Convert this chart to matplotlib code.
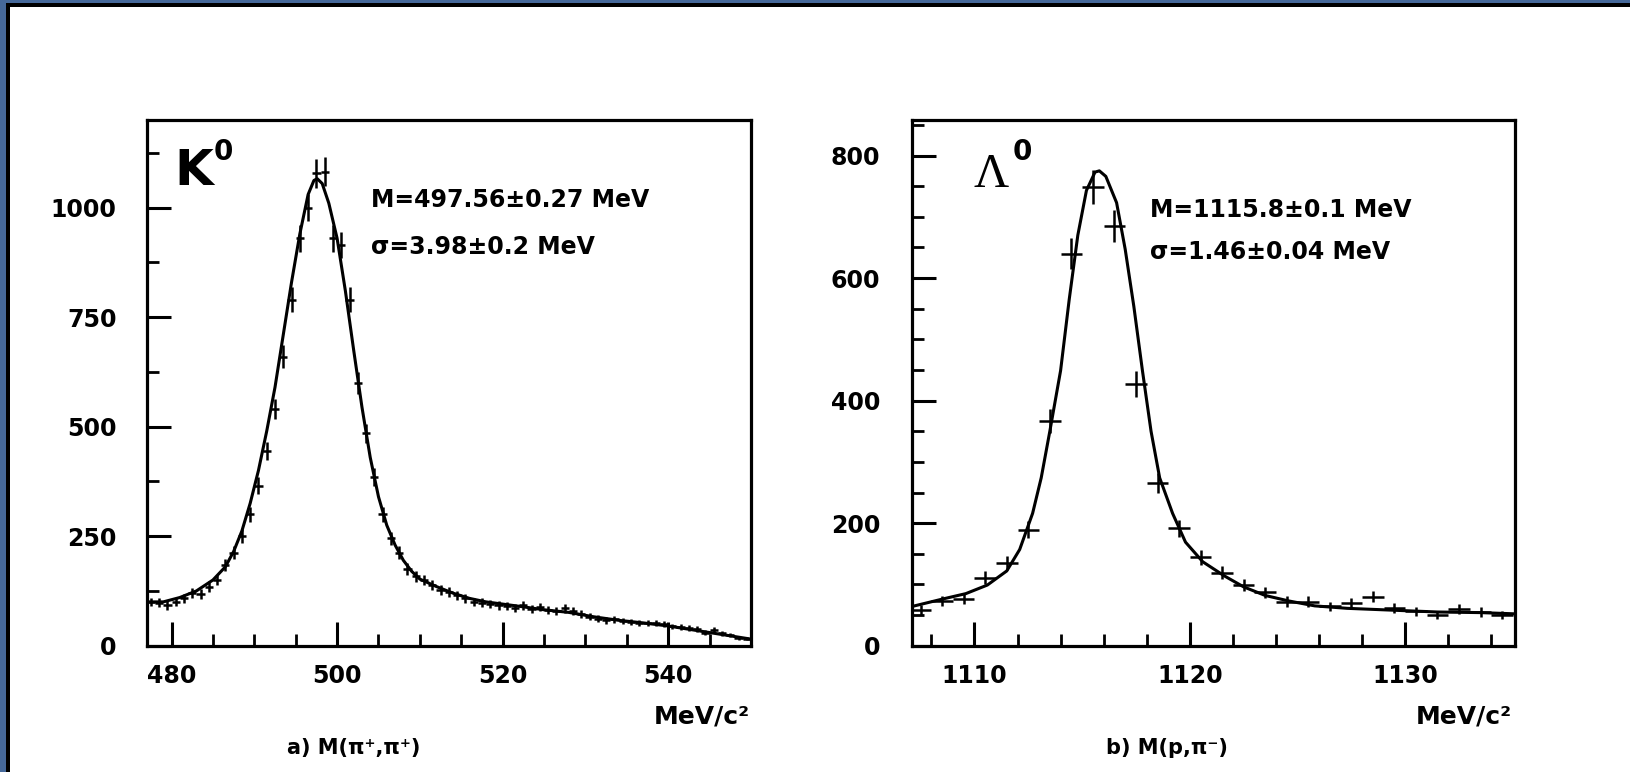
import numpy as np
import matplotlib
matplotlib.use('Agg')
import matplotlib.pyplot as plt
from matplotlib.patches import Rectangle
from matplotlib.ticker import MultipleLocator, FixedLocator

# ---------------- data: K0 -> pi+ pi- ----------------
k0_centers = np.arange(477.5, 550.0, 1.0)
k0_counts = [100, 98, 92, 100, 108, 120, 118, 135, 150, 185,
             212, 250, 300, 365, 445, 540, 660, 790, 930, 1000,
             1078, 1082, 930, 915, 790, 600, 485, 385, 300, 245,
             212, 175, 158, 150, 138, 128, 122, 115, 108, 100,
             98, 95, 92, 90, 86, 92, 84, 88, 82, 80,
             85, 80, 72, 66, 62, 58, 60, 56, 54, 52,
             52, 52, 50, 44, 42, 40, 38, 30, 36, 28,
             24, 18, 16]
k0_fit_x = [477.0, 479.0, 481.0, 483.0, 485.0, 486.5, 487.5, 488.5, 489.5, 490.5,
            491.5, 492.5, 493.5, 494.5, 495.5, 496.5, 497.2, 497.6, 498.2, 499.0,
            500.0, 501.0, 502.0, 503.0, 504.0, 505.0, 506.0, 507.0, 508.0, 509.0,
            510.0, 512.0, 514.0, 516.0, 518.0, 520.0, 522.0, 525.0, 528.0, 531.0,
            534.0, 537.0, 540.0, 543.0, 546.0, 550.0]
k0_fit_y = [100, 100, 110, 125, 150, 180, 215, 262, 325, 400,
            490, 590, 710, 830, 940, 1030, 1062, 1066, 1055, 1010,
            930, 810, 675, 545, 430, 340, 275, 230, 195, 170,
            152, 135, 120, 108, 100, 95, 90, 82, 76, 66,
            58, 52, 45, 36, 27, 15]

# ---------------- data: Lambda -> p pi- ----------------
lam_centers = np.arange(1107.5, 1135.0, 1.0)
lam_counts = [58, 73, 76, 111, 135, 189, 367, 640, 749, 685,
              427, 265, 192, 144, 119, 99, 87, 72, 72, 64,
              69, 80, 62, 56, 50, 60, 55, 50]
lam_fit_x = [1107.1, 1108.5, 1109.6, 1110.6, 1111.5, 1112.1, 1112.7, 1113.1, 1113.5, 1114.0,
             1114.4, 1114.8, 1115.2, 1115.6, 1115.8, 1116.1, 1116.6, 1117.0, 1117.4, 1117.8,
             1118.2, 1118.6, 1119.2, 1119.8, 1120.6, 1121.6, 1122.5, 1123.5, 1124.6, 1125.8,
             1127.3, 1129.4, 1131.5, 1133.5, 1135.1]
lam_fit_y = [64, 76, 85, 99, 122, 157, 216, 274, 350, 449,
             565, 670, 743, 773, 775, 766, 723, 647, 554, 449,
             350, 274, 216, 169, 137, 114, 96, 82, 73, 65,
             61, 58, 55, 54, 52]

k0_ticks = [480, 500, 520, 540]
k0_yticks = [0, 250, 500, 750, 1000]
lam_ticks = [1110, 1120, 1130]
lam_yticks = [0, 200, 400, 600, 800]

# ---------------- figure ----------------
W, H = 1631, 772
fig = plt.figure(figsize=(W / 100, H / 100), dpi=100)
fig.patch.set_facecolor('white')


def fx(x):
    return x / W


def fy(y):
    return 1 - y / H


# blue slide frame (left and top) with black inner line
blue = '#46699a'
fig.add_artist(Rectangle((0, 0), fx(6), 1, transform=fig.transFigure,
                         facecolor=blue, edgecolor='none', zorder=0))
fig.add_artist(Rectangle((0, fy(3)), 1, 3 / H, transform=fig.transFigure,
                         facecolor=blue, edgecolor='none', zorder=0))
fig.add_artist(Rectangle((fx(6), 0), 3.5 / W, fy(3), transform=fig.transFigure,
                         facecolor='black', edgecolor='none', zorder=1))
fig.add_artist(Rectangle((fx(6), fy(6.5)), 1 - fx(6), 3.5 / H, transform=fig.transFigure,
                         facecolor='black', edgecolor='none', zorder=1))

FONT = 'DejaVu Sans'


def style_axes(ax, ypad):
    for s in ax.spines.values():
        s.set_linewidth(2.3)
        s.set_color('black')
    ax.tick_params(which='both', direction='in', top=False, right=False,
                   color='black')
    ax.tick_params(which='major', length=17, width=2.2)
    ax.tick_params(which='minor', length=8.6, width=2.0)
    ax.tick_params(axis='x', which='major', pad=13)
    ax.tick_params(axis='y', which='major', pad=ypad)
    for lab in ax.get_xticklabels() + ax.get_yticklabels():
        lab.set_fontfamily(FONT)
        lab.set_fontweight('bold')
        lab.set_fontsize(17)


# ---------- left panel ----------
ax1 = fig.add_axes([fx(146.7), fy(645.7), (751 - 146.7) / W, (645.7 - 120) / H])
ax1.errorbar(k0_centers, k0_counts, xerr=0.5, yerr=np.sqrt(k0_counts),
             fmt='none', ecolor='black', elinewidth=1.8, capsize=0)
ax1.plot(k0_fit_x, k0_fit_y, color='black', linewidth=2.2)
ax1.set_xlim(477.0, 550.0)
ax1.set_ylim(0, 1200)
ax1.xaxis.set_major_locator(FixedLocator(k0_ticks))
ax1.xaxis.set_minor_locator(MultipleLocator(5))
ax1.yaxis.set_major_locator(FixedLocator(k0_yticks))
ax1.yaxis.set_minor_locator(MultipleLocator(125))
ax1.set_xticklabels([str(t) for t in k0_ticks])
ax1.set_yticklabels([str(t) for t in k0_yticks])
style_axes(ax1, 21.6)

# ---------- right panel ----------
ax2 = fig.add_axes([fx(912), fy(645.7), (1515 - 912) / W, (645.7 - 120) / H])
ax2.errorbar(lam_centers, lam_counts, xerr=0.5, yerr=np.sqrt(lam_counts),
             fmt='none', ecolor='black', elinewidth=1.8, capsize=0)
ax2.plot(lam_fit_x, lam_fit_y, color='black', linewidth=2.2)
ax2.set_xlim(1107.1, 1135.1)
ax2.set_ylim(0, 858)
ax2.xaxis.set_major_locator(FixedLocator(lam_ticks))
ax2.xaxis.set_minor_locator(MultipleLocator(2))
ax2.yaxis.set_major_locator(FixedLocator(lam_yticks))
ax2.yaxis.set_minor_locator(MultipleLocator(50))
ax2.set_xticklabels([str(t) for t in lam_ticks])
ax2.set_yticklabels([str(t) for t in lam_yticks])
style_axes(ax2, 23)

# ---------- texts ----------
txt = dict(family=FONT, fontweight='bold', color='black')
fig.text(fx(174), fy(185), 'K', fontsize=36, ha='left', va='baseline', **txt)
fig.text(fx(214), fy(160), '0', fontsize=20, ha='left', va='baseline', **txt)
fig.text(fx(371), fy(207), 'M=497.56±0.27 MeV', fontsize=17, ha='left', va='baseline', **txt)
fig.text(fx(371), fy(254), 'σ=3.98±0.2 MeV', fontsize=17, ha='left', va='baseline', **txt)

fig.text(fx(974), fy(187), 'Λ', fontsize=35, ha='left', va='baseline',
         family='Liberation Serif', color='black')
fig.text(fx(1013), fy(160), '0', fontsize=20, ha='left', va='baseline', **txt)
fig.text(fx(1150), fy(217), 'M=1115.8±0.1 MeV', fontsize=17, ha='left', va='baseline', **txt)
fig.text(fx(1150), fy(259), 'σ=1.46±0.04 MeV', fontsize=17, ha='left', va='baseline', **txt)

fig.text(fx(750), fy(724), 'MeV/c²', fontsize=18, ha='right', va='baseline', **txt)
fig.text(fx(1512), fy(724), 'MeV/c²', fontsize=18, ha='right', va='baseline', **txt)

fig.text(fx(354), fy(754), 'a) M(π⁺,π⁺)', fontsize=15, ha='center', va='baseline', **txt)
fig.text(fx(1167), fy(754), 'b) M(p,π⁻)', fontsize=15, ha='center', va='baseline', **txt)

fig.savefig('out.png', dpi=100, facecolor=fig.get_facecolor())
